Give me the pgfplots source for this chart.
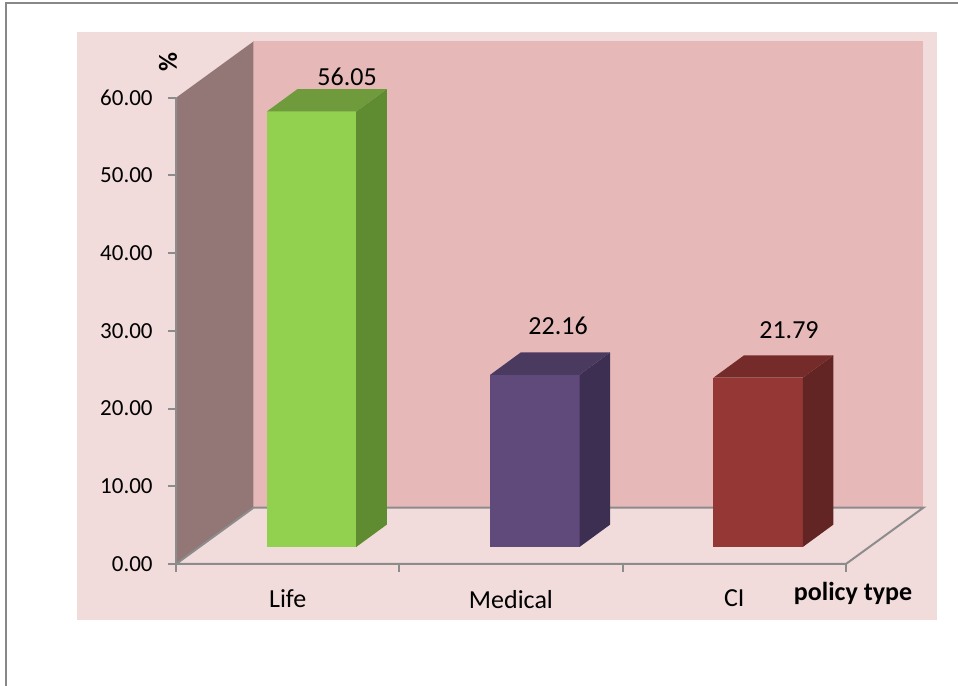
\documentclass[border=0pt]{standalone}
\usepackage{pgfplots}
\pgfplotsset{compat=1.18}
\usepackage{fontspec}
\setmainfont{Carlito}
\definecolor{areabg}{HTML}{F2DCDB}
\definecolor{backwall}{HTML}{E6B9B8}
\definecolor{sidewall}{HTML}{937676}
\definecolor{edgegray}{HTML}{8C8C8C}
\definecolor{frame}{HTML}{888888}
\definecolor{lifeF}{HTML}{92D050}
\definecolor{lifeS}{HTML}{5F8B31}
\definecolor{lifeT}{HTML}{6F9B3D}
\definecolor{medF}{HTML}{604A7B}
\definecolor{medS}{HTML}{3D2F52}
\definecolor{medT}{HTML}{4B3A60}
\definecolor{ciF}{HTML}{953735}
\definecolor{ciS}{HTML}{632523}
\definecolor{ciT}{HTML}{742B29}
% 3D bar: #1 category index, #2 value, #3 front, #4 side, #5 top colour
\newcommand\cube[5]{%
  \pgfmathsetmacro\bL{#1+0.407}%
  \pgfmathsetmacro\bR{#1+0.807}%
  \pgfmathsetmacro\bLb{#1+0.544}%
  \pgfmathsetmacro\bRb{#1+0.944}%
  \pgfmathsetmacro\bT{#2+2.19}%
  \pgfmathsetmacro\bTb{#2+5.07}%
  \edef\tmp{%
    \noexpand\addplot[fill=#3,draw=none] coordinates {(\bL,2.19)(\bR,2.19)(\bR,\bT)(\bL,\bT)};
    \noexpand\addplot[fill=#4,draw=none] coordinates {(\bR,2.19)(\bRb,5.07)(\bRb,\bTb)(\bR,\bT)};
    \noexpand\addplot[fill=#5,draw=none] coordinates {(\bL,\bT)(\bR,\bT)(\bRb,\bTb)(\bLb,\bTb)};
  }\tmp
}
\begin{document}
\begin{tikzpicture}
\begin{axis}[
  x=167.475pt, y=5.8275pt,
  xmin=0, xmax=3.347, ymin=0, ymax=67.25,
  clip=false, axis on top,
  axis lines*=left,
  axis line style={draw=none},
  tick align=outside,
  major tick length=6pt,
  tick style={draw=edgegray, line width=1.5pt},
  xtick={0,1,2,3}, x tick label as interval,
  xticklabels={Life,Medical,CI},
  ytick={0,10,20,30,40,50,60},
  /pgf/number format/assume math mode=true,
  yticklabel style={/pgf/number format/.cd, fixed, fixed zerofill, precision=2, /tikz/.cd,
    font=\fontsize{17.25}{20}\selectfont, color=black, xshift=-8pt},
  xticklabel style={font=\fontsize{19.5}{22}\selectfont, color=black, yshift=-10pt},
  xlabel={\textbf{policy type}},
  xlabel style={at={(axis description cs:0.9059,-0.0555)}, anchor=center,
    font=\fontsize{19.5}{22}\selectfont},
  ylabel={\textbf{\%}},
  ylabel style={at={(axis description cs:-0.0107,0.9606)}, anchor=center, rotate=0,
    font=\fontsize{19.5}{22}\selectfont},
]
% page background and frame
\addplot[fill=white,draw=none] coordinates {(-0.7882,-15.701)(3.502,-15.701)(3.502,72.587)(-0.7882,72.587)};
\addplot[draw=frame,line width=1.5pt] coordinates {(-0.7635,-15.701)(-0.7635,72.136)(3.502,72.136)};
% chart area
\addplot[fill=areabg,draw=none] coordinates {(-0.4447,-7.21)(3.408,-7.21)(3.408,68.43)(-0.4447,68.43)};
% walls
\addplot[fill=backwall,draw=none] coordinates {(0.347,7.25)(3.347,7.25)(3.347,67.25)(0.347,67.25)};
\addplot[fill=sidewall,draw=none] coordinates {(0,0)(0,60)(0.347,67.25)(0.347,7.25)};
% edges
\addplot[draw=edgegray,line width=1.5pt] coordinates {(0,60)(0,0)(3,0)(3.347,7.25)(0.347,7.25)(0,0)};
% bars
\cube{0}{56.05}{lifeF}{lifeS}{lifeT}
\cube{1}{22.16}{medF}{medS}{medT}
\cube{2}{21.79}{ciF}{ciS}{ciT}
% data labels
\addplot[draw=none, nodes near coords, point meta=explicit symbolic,
  every node near coord/.style={anchor=center, inner sep=0pt, font=\fontsize{19.5}{22}\selectfont}]
  coordinates {(0.766,62.68) [56.05] (1.711,30.63) [22.16] (2.745,30.12) [21.79]};
\coordinate (bbsw) at (axis cs:-0.7882,-15.701);
\coordinate (bbne) at (axis cs:3.502,72.587);
\end{axis}
\pgfresetboundingbox
\path[use as bounding box] (bbsw) rectangle (bbne);
\end{tikzpicture}
\end{document}
